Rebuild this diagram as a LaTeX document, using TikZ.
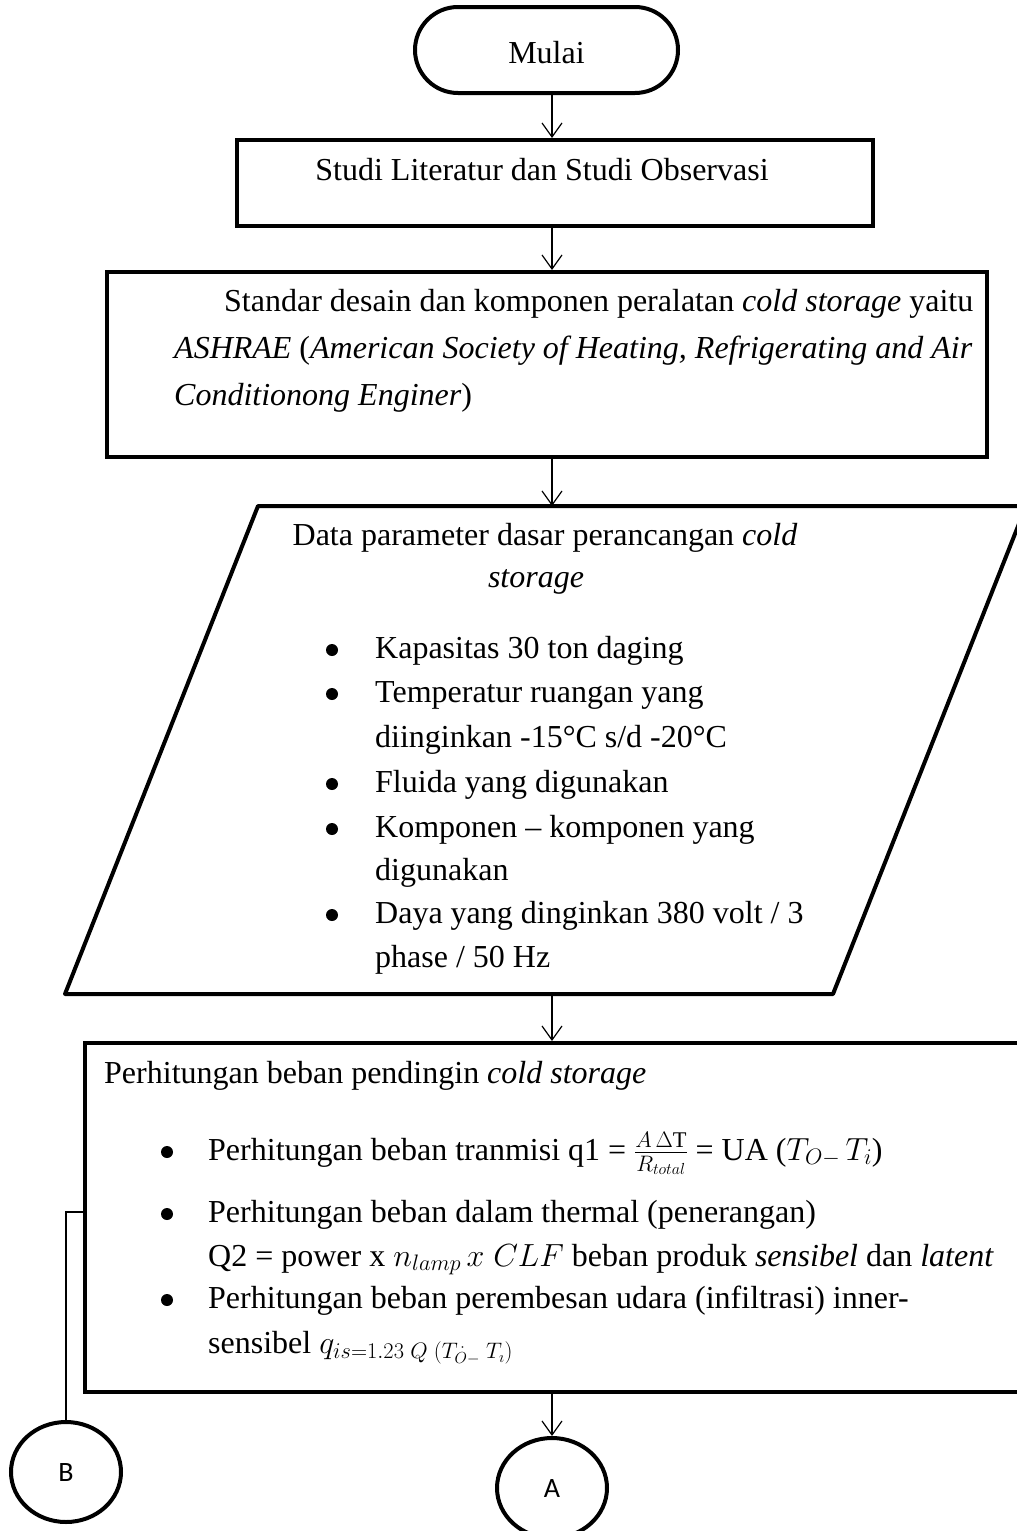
\RequirePackage{fix-cm}
\documentclass[tikz,border=0pt]{standalone}
\usepackage{fontspec}
\setmainfont{Liberation Serif}
\newfontfamily\lblfont{Carlito}
\usetikzlibrary{arrows.meta,shapes.geometric}
\begin{document}
\begin{tikzpicture}[x=1pt,y=-1pt,
  box/.style={draw,line width=4pt,inner sep=0pt},
  arr/.style={line width=1.2pt,-{Straight Barb[length=14pt,width=20pt,line width=1.2pt]}},
  txt/.style={inner sep=0pt,anchor=base west,font=\fontsize{32}{44}\selectfont},
  ctxt/.style={txt,anchor=base},
  bul/.style={circle,fill=black,inner sep=0pt,minimum size=12pt},
  circ/.style={draw,ellipse,line width=4pt,minimum width=110pt,minimum height=100pt,inner sep=0pt,font=\lblfont\fontsize{28}{30}\selectfont},
  link/.style={line width=1.3pt}]
\useasboundingbox (0,0) rectangle (1017,1531);
\clip (0,0) rectangle (1017,1531);

% shapes
\node[box,rounded corners=43pt,minimum width=263pt,minimum height=86pt] (mulai) at (546.5,50) {};
\node[box,minimum width=636pt,minimum height=86pt] (studi) at (555,183) {};
\node[box,minimum width=880pt,minimum height=185pt] (standar) at (547,364.5) {};
\draw[line width=4pt,line join=round] (258,506) -- (1026,506) -- (833,994) -- (65,994) -- cycle;
\coordinate (dataT) at (552,506);
\coordinate (dataB) at (552,994);
\node[box,minimum width=945pt,minimum height=349pt] (hitung) at (557.5,1217.5) {};
\node[circ] (B) at (66,1472) {B};
\node[circ] (A) at (552,1488) {A};

% connectors
\coordinate (ax) at (552,0);
\draw[arr] (mulai.south -| ax) -- (studi.north -| ax);
\draw[arr] (studi.south -| ax) -- (standar.north -| ax);
\draw[arr] (standar.south -| ax) -- (dataT);
\draw[arr] (dataB) -- (hitung.north -| ax);
\draw[arr] (hitung.south -| ax) -- (A.north);
\coordinate (bj) at (66,1212);
\draw[link] (hitung.west |- bj) -- (bj) -- (B.north);

% texts
\node[ctxt] (tmulai) at (546.5,63) {Mulai};
\node[ctxt] (tstudi) at (542,180) {Studi Literatur dan Studi Observasi};

\node[txt] (s1) at (224,311) {Standar desain dan komponen peralatan \textit{cold storage} yaitu};
\node[txt] (s2) at (174,358) {\textit{ASHRAE} (\textit{American Society of Heating, Refrigerating and Air}};
\node[txt] (s3) at (174,405) {\textit{Conditionong Enginer})};

\node[ctxt] (d1) at (545,545) {Data parameter dasar perancangan \textit{cold}};
\node[ctxt] (d2) at (536,587) {\textit{storage}};
\node[bul] (b1) at (332,650) {};
\node[txt] (d3) at (375,658) {Kapasitas 30 ton daging};
\node[bul] (b2) at (332,694) {};
\node[txt] (d4) at (375,702) {Temperatur ruangan yang};
\node[txt] (d5) at (375,747) {diinginkan -15°C s/d -20°C};
\node[bul] (b3) at (332,784) {};
\node[txt] (d6) at (375,792) {Fluida yang digunakan};
\node[bul] (b4) at (332,829) {};
\node[txt] (d7) at (375,837) {Komponen – komponen yang};
\node[txt] (d8) at (375,880) {digunakan};
\node[bul] (b5) at (332,915) {};
\node[txt] (d9) at (375,923) {Daya yang dinginkan 380 volt / 3};
\node[txt] (d10) at (375,967) {phase / 50 Hz};

\node[txt] (h0) at (104,1083) {Perhitungan beban pendingin \textit{cold storage}};
\node[bul] (hb1) at (167,1152) {};
\node[txt] (h1) at (208,1160) {Perhitungan beban tranmisi q1 = $\frac{A\,\Delta\mathrm{T}}{R_{total}}$ = UA ($T_{O-}\,T_i$)};
\node[bul] (hb2) at (167,1214) {};
\node[txt] (h2) at (208,1222) {Perhitungan beban dalam thermal (penerangan)};
\node[txt] (h3) at (208,1266) {Q2 = power x $n_{lamp}\,x\;CLF$ beban produk \textit{sensibel} dan \textit{latent}};
\node[bul] (hb3) at (167,1300) {};
\node[txt] (h4) at (208,1308) {Perhitungan beban perembesan udara (infiltrasi) inner-};
\node[txt] (h5) at (208,1353) {sensibel $q_{is=1.23\;Q\;(T^{\,\cdot}_{O-}\;T_{\imath})}$};
\end{tikzpicture}
\end{document}
